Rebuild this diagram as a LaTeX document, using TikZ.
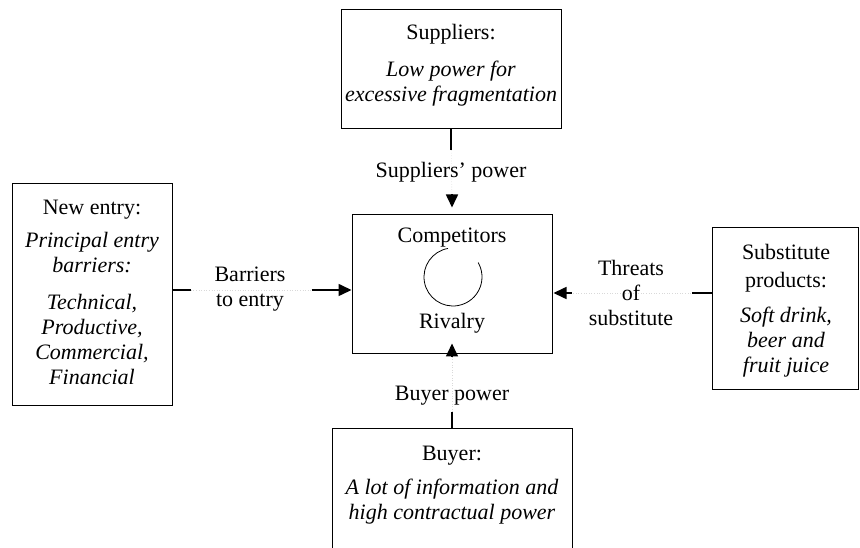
\documentclass[tikz,border=0pt]{standalone}
\usepackage{fontspec}
\setmainfont{Liberation Serif}
\usetikzlibrary{arrows.meta,calc}
\begin{document}
\begin{tikzpicture}[x=1pt,y=1pt,
  every node/.style={font=\fontsize{22}{25}\selectfont},
  box/.style={draw,line width=1pt,align=center,inner sep=0pt},
  conn/.style={line width=1.6pt},
  faint/.style={gray!30,dotted,line width=0.6pt},
  tip/.style={-{Triangle[length=13pt,width=12pt]}},
  lbl/.style={align=center,inner sep=0pt}]
\useasboundingbox (0,0) rectangle (860,547);
\clip (0,0) rectangle (860,547);
% boxes
\node[box,minimum width=220pt,minimum height=119pt] (sup) at (451,477.5) {};
\node[lbl] (suptxt) at (451,482)
  {Suppliers:\\[12pt]\textit{Low power for}\\\textit{excessive fragmentation}};
\node[box,minimum width=200pt,minimum height=139pt] (comp) at (452,262.5) {};
\node[lbl] (comptxt) at (452,309) {Competitors};
\node[lbl] (rivtxt) at (452,224) {Rivalry};
\draw[line width=0.8pt] (453,270) ++(100:29) arc[start angle=100,end angle=390,radius=29];
\node[box,minimum width=160pt,minimum height=221pt] (new) at (92,252.5) {};
\node[lbl] (newtxt) at (92,255)
  {New entry:\\[8pt]\textit{Principal entry}\\\textit{barriers:}\\[12pt]\textit{Technical,}\\\textit{Productive,}\\\textit{Commercial,}\\\textit{Financial}};
\node[box,minimum width=146pt,minimum height=161pt] (sub) at (785,238.5) {};
\node[lbl] (subtxt) at (786,236)
  {Substitute\\[3pt]products:\\[10pt]\textit{Soft drink,}\\\textit{beer and}\\\textit{fruit juice}};
\node[box,minimum width=240pt,minimum height=150pt] (buy) at (452,44) {};
\node[lbl,anchor=north] (buytxt) at ([yshift=-18pt]buy.north)
  {Buyer:\\[9pt]\textit{A lot of information and}\\\textit{high contractual power}};
% top connector
\draw[faint] (sup.south) -- ([yshift=7pt]comp.north);
\draw[conn] (sup.south) -- ++(0,-21);
\draw[conn,tip] ([yshift=20pt]comp.north) -- ([yshift=7pt]comp.north);
\node[lbl] (spw) at (451,375) {Suppliers’ power};
% left connector
\coordinate (l0) at (new.east |- 0,257);
\coordinate (l1) at (comp.west |- 0,257);
\draw[faint] (l0) -- (l1);
\draw[conn] (l0) -- ++(18,0);
\draw[conn,tip] ([xshift=-40pt]l1) -- (l1);
\node[lbl] (bte) at (250,258) {Barriers\\to entry};
% right connector
\coordinate (r0) at (sub.west |- 0,254);
\coordinate (r1) at ([xshift=1pt]comp.east |- 0,254);
\draw[faint] (r0) -- (r1);
\draw[conn] (r0) -- ++(-20,0);
\draw[conn,tip] ([xshift=18pt]r1) -- (r1);
\node[lbl] (tos) at (631,254) {Threats\\of\\substitute};
% bottom connector
\coordinate (b1) at ([yshift=11pt]comp.south);
\draw[faint] (buy.north) -- (b1);
\draw[conn] (buy.north) -- ++(0,16);
\draw[conn,tip] ([yshift=-13pt]b1) -- (b1);
\node[lbl] (bpw) at (452,151) {Buyer power};
\end{tikzpicture}
\end{document}
